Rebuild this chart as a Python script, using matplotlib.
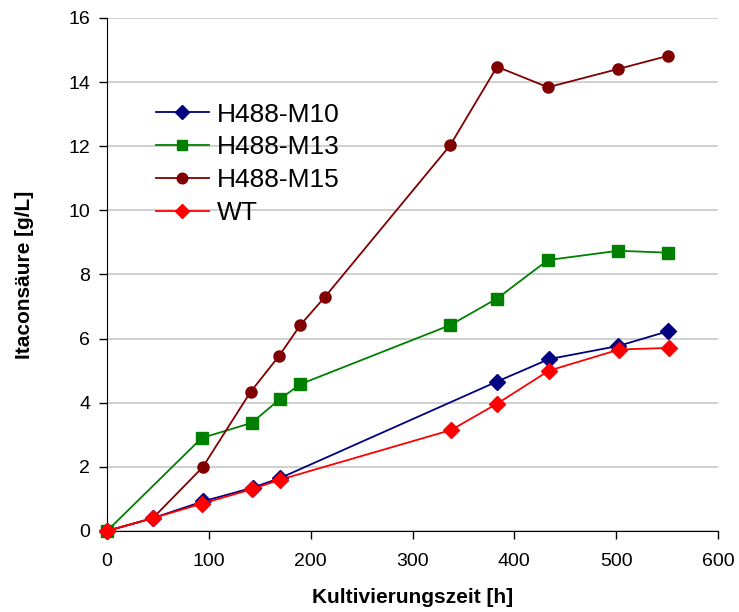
import matplotlib
matplotlib.use("Agg")
import matplotlib.pyplot as plt

plt.rcParams['font.family'] = ['Liberation Sans', 'DejaVu Sans']

# --- DATEN ---
zeit_m10 = [0, 45, 94, 143, 170, 383, 434, 502, 551]
m10 = [0.0, 0.4, 0.92, 1.35, 1.65, 4.66, 5.36, 5.77, 6.23]

zeit_m13 = [0, 93, 142, 170, 190, 337, 383, 433, 502, 551]
m13 = [0.0, 2.9, 3.37, 4.12, 4.58, 6.42, 7.25, 8.45, 8.74, 8.68]

zeit_m15 = [0, 45, 94, 141, 169, 190, 214, 337, 383, 433, 502, 551]
m15 = [0.0, 0.4, 1.99, 4.34, 5.46, 6.43, 7.3, 12.03, 14.48, 13.84, 14.41, 14.82]

zeit_wt = [0, 45, 93, 142, 170, 338, 383, 434, 503, 552]
wt = [0.0, 0.4, 0.85, 1.3, 1.6, 3.15, 3.97, 5.0, 5.66, 5.71]

xticks = [0, 100, 200, 300, 400, 500, 600]
yticks = [0, 2, 4, 6, 8, 10, 12, 14, 16]

# --- PLOT ---
fig = plt.figure(figsize=(7.39, 6.12), dpi=100)
ax = fig.add_axes([0.1448, 0.1324, 0.8268, 0.8382])

ax.plot(zeit_m10, m10, '-', color='#000080', marker='D', markersize=8, lw=1.3, label='H488-M10', clip_on=False, zorder=3)
ax.plot(zeit_m13, m13, '-', color='#008000', marker='s', markersize=8, lw=1.3, label='H488-M13', clip_on=False, zorder=3)
ax.plot(zeit_m15, m15, '-', color='#800000', marker='o', markersize=8, lw=1.3, label='H488-M15', clip_on=False, zorder=3)
ax.plot(zeit_wt, wt, '-', color='#FF0000', marker='D', markersize=8, lw=1.3, label='WT', clip_on=False, zorder=4)

ax.set_xlim(0, 600)
ax.set_ylim(0, 16)
ax.set_xticks(xticks)
ax.set_yticks(yticks)
ax.tick_params(axis='both', labelsize=14, direction='out', length=6, width=1, colors='black')
ax.tick_params(axis='x', pad=10)
ax.tick_params(axis='y', pad=6)

ax.yaxis.grid(True, color='#c8c8c8', lw=1.2)
ax.set_axisbelow(True)
ax.spines['top'].set_visible(False)
ax.spines['right'].set_visible(False)
ax.spines['left'].set_color('black')
ax.spines['bottom'].set_color('black')

ax.set_xlabel('Kultivierungszeit [h]', fontsize=15, fontweight='bold', labelpad=13)
ax.set_ylabel('Itaconsäure [g/L]', fontsize=15, fontweight='bold', labelpad=25)

ax.legend(loc='upper left', bbox_to_anchor=(0.08, 0.835), frameon=False, fontsize=19,
          borderaxespad=0, borderpad=0,
          handlelength=2.0, handletextpad=0.3, labelspacing=0.33, markerscale=0.95)

fig.savefig('out.png', dpi=100)
